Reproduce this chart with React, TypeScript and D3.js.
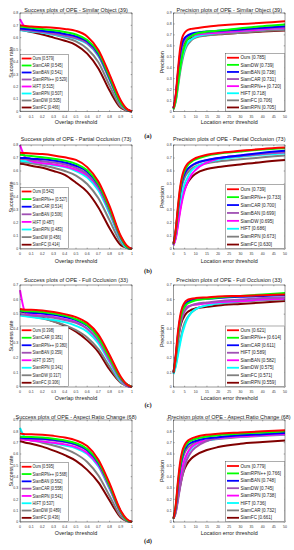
import React from "react";
import * as d3 from "d3";

// thresholds used for the sampled curve points
const successThresholds = [0, 0.05, 0.1, 0.2, 0.3, 0.4, 0.5, 0.6, 0.7, 0.8, 0.9, 0.95, 1];
const precisionThresholds = [0, 1, 2, 3, 4, 5, 6, 8, 10, 15, 20, 30, 40, 50];

// colour is given by rank in the legend
const rankColors = ["#ff0000", "#00ff00", "#0000ff", "#a050b4", "#ff00ff", "#00ffff", "#7f7f7f", "#800000"];

// (a) Similar Object
const soSuccessNames = ["Ours", "SiamCAR", "SiamBAN", "SiamRPN++", "HIFT", "SiamRPN", "SiamDW", "SiamFC"];
const soSuccessScores = ["0.579", "0.545", "0.541", "0.529", "0.515", "0.507", "0.505", "0.466"];
const soSuccessValues = [
  [0.7, 0.695, 0.69, 0.685, 0.68, 0.67, 0.655, 0.61, 0.5, 0.3, 0.09, 0.025, 0],
  [0.69, 0.685, 0.68, 0.67, 0.66, 0.645, 0.625, 0.58, 0.48, 0.28, 0.07, 0.02, 0],
  [0.675, 0.67, 0.665, 0.655, 0.645, 0.63, 0.61, 0.57, 0.47, 0.27, 0.07, 0.02, 0],
  [0.665, 0.66, 0.655, 0.645, 0.63, 0.615, 0.595, 0.555, 0.455, 0.26, 0.06, 0.015, 0],
  [0.75, 0.68, 0.665, 0.65, 0.635, 0.62, 0.6, 0.565, 0.475, 0.29, 0.08, 0.02, 0],
  [0.66, 0.655, 0.65, 0.64, 0.625, 0.61, 0.59, 0.55, 0.45, 0.26, 0.06, 0.015, 0],
  [0.675, 0.67, 0.66, 0.645, 0.625, 0.6, 0.57, 0.51, 0.4, 0.21, 0.04, 0.01, 0],
  [0.665, 0.655, 0.645, 0.625, 0.6, 0.575, 0.54, 0.47, 0.35, 0.17, 0.03, 0.01, 0],
];
const soPrecisionNames = ["Ours", "SiamDW", "SiamBAN", "SiamCAR", "SiamRPN++", "HIFT", "SiamFC", "SiamRPN"];
const soPrecisionScores = ["0.785", "0.739", "0.738", "0.731", "0.720", "0.718", "0.706", "0.705"];
const soPrecisionValues = [
  [0.03, 0.15, 0.38, 0.58, 0.68, 0.72, 0.74, 0.755, 0.76, 0.775, 0.785, 0.8, 0.81, 0.825],
  [0.02, 0.1, 0.25, 0.4, 0.52, 0.6, 0.65, 0.69, 0.71, 0.73, 0.739, 0.76, 0.78, 0.795],
  [0.03, 0.14, 0.35, 0.53, 0.63, 0.67, 0.69, 0.71, 0.72, 0.73, 0.738, 0.75, 0.765, 0.78],
  [0.03, 0.13, 0.33, 0.5, 0.6, 0.65, 0.675, 0.7, 0.71, 0.722, 0.731, 0.745, 0.76, 0.77],
  [0.03, 0.14, 0.34, 0.51, 0.61, 0.65, 0.67, 0.69, 0.7, 0.712, 0.72, 0.735, 0.75, 0.76],
  [0.03, 0.1, 0.25, 0.4, 0.5, 0.57, 0.62, 0.66, 0.685, 0.705, 0.718, 0.735, 0.75, 0.76],
  [0.02, 0.09, 0.22, 0.36, 0.47, 0.55, 0.6, 0.65, 0.675, 0.695, 0.706, 0.72, 0.735, 0.745],
  [0.03, 0.13, 0.32, 0.49, 0.59, 0.63, 0.655, 0.675, 0.685, 0.698, 0.705, 0.72, 0.73, 0.74],
];

// (b) Partial Occlusion
const poSuccessNames = ["Ours", "SiamRPN++", "SiamCAR", "SiamBAN", "HIFT", "SiamRPN", "SiamDW", "SiamFC"];
const poSuccessScores = ["0.542", "0.527", "0.514", "0.506", "0.487", "0.483", "0.456", "0.414"];
const poSuccessValues = [
  [0.74, 0.738, 0.735, 0.73, 0.72, 0.705, 0.685, 0.63, 0.52, 0.33, 0.1, 0.03, 0],
  [0.725, 0.72, 0.715, 0.705, 0.695, 0.68, 0.655, 0.605, 0.5, 0.31, 0.09, 0.02, 0],
  [0.7, 0.7, 0.695, 0.69, 0.68, 0.665, 0.64, 0.595, 0.495, 0.31, 0.09, 0.02, 0],
  [0.695, 0.69, 0.685, 0.675, 0.665, 0.65, 0.625, 0.575, 0.475, 0.29, 0.08, 0.02, 0],
  [0.8, 0.7, 0.675, 0.66, 0.65, 0.635, 0.61, 0.565, 0.47, 0.29, 0.08, 0.02, 0],
  [0.68, 0.675, 0.67, 0.66, 0.645, 0.63, 0.6, 0.55, 0.45, 0.27, 0.07, 0.01, 0],
  [0.67, 0.665, 0.66, 0.645, 0.625, 0.6, 0.565, 0.5, 0.39, 0.22, 0.05, 0.01, 0],
  [0.655, 0.65, 0.64, 0.625, 0.6, 0.57, 0.51, 0.44, 0.32, 0.16, 0.03, 0.01, 0],
];
const poPrecisionNames = ["Ours", "SiamRPN++", "SiamCAR", "SiamBAN", "SiamDW", "HIFT", "SiamRPN", "SiamFC"];
const poPrecisionScores = ["0.739", "0.733", "0.700", "0.699", "0.695", "0.686", "0.673", "0.630"];
const poPrecisionValues = [
  [0.04, 0.15, 0.33, 0.48, 0.57, 0.62, 0.65, 0.68, 0.7, 0.725, 0.739, 0.755, 0.77, 0.78],
  [0.04, 0.14, 0.31, 0.46, 0.55, 0.6, 0.635, 0.67, 0.69, 0.718, 0.733, 0.75, 0.765, 0.775],
  [0.04, 0.14, 0.3, 0.44, 0.53, 0.58, 0.61, 0.64, 0.66, 0.685, 0.7, 0.72, 0.74, 0.755],
  [0.04, 0.13, 0.29, 0.43, 0.52, 0.57, 0.6, 0.635, 0.655, 0.683, 0.699, 0.715, 0.73, 0.745],
  [0.03, 0.08, 0.18, 0.29, 0.38, 0.45, 0.5, 0.57, 0.61, 0.665, 0.695, 0.72, 0.735, 0.745],
  [0.03, 0.1, 0.22, 0.34, 0.43, 0.5, 0.54, 0.6, 0.63, 0.665, 0.686, 0.71, 0.725, 0.735],
  [0.04, 0.13, 0.28, 0.41, 0.5, 0.55, 0.58, 0.615, 0.635, 0.66, 0.673, 0.69, 0.705, 0.72],
  [0.03, 0.09, 0.2, 0.31, 0.4, 0.46, 0.5, 0.55, 0.58, 0.615, 0.63, 0.65, 0.67, 0.685],
];

// (c) Full Occlusion
const foSuccessNames = ["Ours", "SiamCAR", "SiamRPN++", "SiamBAN", "HIFT", "SiamRPN", "SiamDW", "SiamFC"];
const foSuccessScores = ["0.398", "0.381", "0.380", "0.359", "0.357", "0.341", "0.317", "0.306"];
const foSuccessValues = [
  [0.535, 0.53, 0.53, 0.525, 0.515, 0.5, 0.48, 0.44, 0.36, 0.22, 0.07, 0.02, 0],
  [0.525, 0.52, 0.52, 0.515, 0.505, 0.49, 0.465, 0.425, 0.34, 0.2, 0.06, 0.02, 0],
  [0.52, 0.515, 0.51, 0.505, 0.495, 0.48, 0.46, 0.42, 0.345, 0.21, 0.06, 0.02, 0],
  [0.5, 0.495, 0.49, 0.485, 0.475, 0.46, 0.44, 0.4, 0.32, 0.19, 0.05, 0.01, 0],
  [0.665, 0.51, 0.5, 0.49, 0.48, 0.465, 0.445, 0.4, 0.32, 0.18, 0.05, 0.01, 0],
  [0.49, 0.485, 0.48, 0.47, 0.46, 0.445, 0.42, 0.38, 0.3, 0.17, 0.04, 0.01, 0],
  [0.5, 0.495, 0.485, 0.47, 0.45, 0.425, 0.39, 0.34, 0.26, 0.14, 0.03, 0.01, 0],
  [0.52, 0.51, 0.495, 0.475, 0.45, 0.42, 0.38, 0.32, 0.24, 0.12, 0.03, 0.01, 0],
];
const foPrecisionNames = ["Ours", "SiamRPN++", "SiamCAR", "HIFT", "SiamBAN", "SiamDW", "SiamFC", "SiamRPN"];
const foPrecisionScores = ["0.621", "0.614", "0.611", "0.589", "0.582", "0.575", "0.571", "0.559"];
const foPrecisionValues = [
  [0.1, 0.22, 0.38, 0.49, 0.55, 0.58, 0.595, 0.605, 0.61, 0.615, 0.621, 0.625, 0.63, 0.635],
  [0.1, 0.2, 0.35, 0.46, 0.52, 0.55, 0.57, 0.585, 0.595, 0.605, 0.614, 0.625, 0.635, 0.645],
  [0.1, 0.21, 0.36, 0.47, 0.53, 0.56, 0.58, 0.595, 0.6, 0.605, 0.611, 0.62, 0.625, 0.63],
  [0.1, 0.19, 0.32, 0.42, 0.48, 0.52, 0.54, 0.56, 0.57, 0.58, 0.589, 0.6, 0.61, 0.615],
  [0.1, 0.2, 0.34, 0.44, 0.5, 0.53, 0.55, 0.56, 0.565, 0.575, 0.582, 0.59, 0.6, 0.605],
  [0.09, 0.14, 0.22, 0.3, 0.37, 0.42, 0.46, 0.51, 0.535, 0.56, 0.575, 0.59, 0.6, 0.605],
  [0.09, 0.15, 0.24, 0.32, 0.39, 0.44, 0.47, 0.51, 0.535, 0.56, 0.571, 0.585, 0.595, 0.6],
  [0.1, 0.19, 0.32, 0.41, 0.46, 0.49, 0.51, 0.53, 0.54, 0.55, 0.559, 0.57, 0.58, 0.59],
];

// (d) Aspect Ratio Change
const arSuccessNames = ["Ours", "SiamRPN++", "SiamBAN", "SiamCAR", "SiamRPN", "HIFT", "SiamDW", "SiamFC"];
const arSuccessScores = ["0.595", "0.568", "0.562", "0.558", "0.541", "0.537", "0.489", "0.436"];
const arSuccessValues = [
  [0.78, 0.775, 0.775, 0.77, 0.76, 0.745, 0.72, 0.67, 0.55, 0.34, 0.1, 0.03, 0],
  [0.755, 0.75, 0.75, 0.745, 0.735, 0.72, 0.695, 0.645, 0.53, 0.32, 0.09, 0.02, 0],
  [0.745, 0.74, 0.74, 0.735, 0.725, 0.71, 0.685, 0.635, 0.52, 0.32, 0.09, 0.02, 0],
  [0.74, 0.735, 0.735, 0.73, 0.72, 0.705, 0.68, 0.63, 0.515, 0.31, 0.08, 0.02, 0],
  [0.73, 0.725, 0.72, 0.71, 0.7, 0.685, 0.66, 0.61, 0.5, 0.3, 0.08, 0.02, 0],
  [0.83, 0.74, 0.725, 0.71, 0.695, 0.675, 0.65, 0.6, 0.49, 0.29, 0.08, 0.02, 0],
  [0.735, 0.73, 0.72, 0.7, 0.675, 0.645, 0.6, 0.53, 0.41, 0.23, 0.05, 0.01, 0],
  [0.715, 0.7, 0.69, 0.665, 0.63, 0.59, 0.54, 0.46, 0.35, 0.19, 0.04, 0.01, 0],
];
const arPrecisionNames = ["Ours", "SiamRPN++", "SiamBAN", "SiamDW", "SiamRPN", "HIFT", "SiamCAR", "SiamFC"];
const arPrecisionScores = ["0.779", "0.766", "0.748", "0.745", "0.738", "0.736", "0.732", "0.661"];
const arPrecisionValues = [
  [0.03, 0.15, 0.36, 0.53, 0.63, 0.68, 0.71, 0.735, 0.75, 0.77, 0.779, 0.79, 0.8, 0.81],
  [0.03, 0.14, 0.34, 0.5, 0.6, 0.66, 0.69, 0.72, 0.735, 0.755, 0.766, 0.78, 0.79, 0.8],
  [0.03, 0.13, 0.32, 0.48, 0.58, 0.64, 0.67, 0.7, 0.715, 0.738, 0.748, 0.765, 0.775, 0.785],
  [0.03, 0.08, 0.19, 0.31, 0.41, 0.49, 0.55, 0.62, 0.66, 0.715, 0.745, 0.765, 0.775, 0.785],
  [0.03, 0.11, 0.25, 0.38, 0.48, 0.55, 0.6, 0.66, 0.69, 0.72, 0.738, 0.755, 0.765, 0.775],
  [0.03, 0.1, 0.24, 0.37, 0.47, 0.54, 0.59, 0.65, 0.685, 0.718, 0.736, 0.755, 0.765, 0.775],
  [0.03, 0.12, 0.3, 0.45, 0.55, 0.61, 0.645, 0.68, 0.7, 0.72, 0.732, 0.75, 0.76, 0.77],
  [0.03, 0.09, 0.21, 0.32, 0.41, 0.47, 0.51, 0.56, 0.59, 0.635, 0.661, 0.69, 0.705, 0.72],
];

const attrTitles = ["Similar Object (39)", "Partial Occlusion (73)", "Full Occlusion (33)", "Aspect Ratio Change (68)"];
const successMax = [0.8, 0.8, 0.7, 0.9];
const precisionMax = [0.9, 0.8, 0.7, 0.9];
const subLabels = ["(a)", "(b)", "(c)", "(d)"];

// layout
const rowTop = [13, 145, 285, 420];
const rowBottom = [111.5, 249, 387, 522];
const titleBase = [12.3, 141.3, 282, 418.6];
const xLabelGap = [12, 14, 13, 13];
const subLabelY = [136, 271, 405, 541];
const succLegendStep = [7, 7.6, 7.5, 7.3];
const precLegendStep = [7.1, 7.9, 7.5, 7.4];
const FONT = "'Liberation Sans', Arial, Helvetica, sans-serif";

type PanelProps = {
  kind: "success" | "precision";
  title: string;
  names: string[];
  scores: string[];
  values: number[][];
  yMax: number;
  left: number;
  right: number;
  top: number;
  bottom: number;
  titleY: number;
  labelGap: number;
  legendStep: number;
};

function Panel(p: PanelProps) {
  const isSucc = p.kind === "success";
  const thresholds = isSucc ? successThresholds : precisionThresholds;
  const x = d3.scaleLinear().domain(isSucc ? [0, 1] : [0, 50]).range([p.left, p.right]);
  const y = d3.scaleLinear().domain([0, p.yMax]).range([p.bottom, p.top]);
  const xTicks = x.ticks(10);
  const yTicks = y.ticks(Math.round(p.yMax * 10));
  const fmtX = isSucc ? (t: number) => (t === 0 || t === 1 ? String(t) : d3.format(".1f")(t)) : d3.format("d");
  const fmtY = (t: number) => (t === 0 ? "0" : d3.format(".1f")(t));
  const line = d3
    .line<number>()
    .x((_, i) => x(thresholds[i]))
    .y((d) => y(d))
    .curve(d3.curveMonotoneX);

  const tl = 1.3;
  const cx = (p.left + p.right) / 2;
  const cy = (p.top + p.bottom) / 2;

  // legend geometry
  const lgLeft = isSucc ? p.left + 0.5 : 225.5;
  const lgRight = isSucc ? 68.5 : p.right - 0.3;
  const lgTop = p.bottom - 8 * p.legendStep - 1;
  const lineA = isSucc ? 1.2 : 1.5;
  const lineB = isSucc ? 11 : 13.5;
  const textX = isSucc ? 12 : 15;
  const lgFont = isSucc ? 4.6 : 4.8;
  const lgScale = isSucc ? 0.85 : 0.95;

  return (
    <g>
      <text x={cx} y={p.titleY} textAnchor="middle" fontSize={5.5} fontFamily={FONT} fill="#222">
        {p.title}
      </text>
      <rect x={p.left} y={p.top} width={p.right - p.left} height={p.bottom - p.top} fill="#fff" stroke="none" />
      {/* curves, lowest rank first so Ours ends on top */}
      <g>
        {p.values
          .map((v, i) => ({ v, i }))
          .reverse()
          .map(({ v, i }) => (
            <path key={i} d={line(v) || ""} fill="none" stroke={rankColors[i]} strokeWidth={2} />
          ))}
      </g>
      {/* ticks */}
      {xTicks.map((t) => (
        <g key={"x" + t}>
          <line x1={x(t)} x2={x(t)} y1={p.bottom} y2={p.bottom - tl} stroke="#333" strokeWidth={0.4} />
          <line x1={x(t)} x2={x(t)} y1={p.top} y2={p.top + tl} stroke="#333" strokeWidth={0.4} />
          <text x={x(t)} y={p.bottom + 6} textAnchor="middle" fontSize={3.5} fontFamily={FONT} fill="#333">
            {fmtX(t)}
          </text>
        </g>
      ))}
      {yTicks.map((t) => (
        <g key={"y" + t}>
          <line x1={p.left} x2={p.left + tl} y1={y(t)} y2={y(t)} stroke="#333" strokeWidth={0.4} />
          <line x1={p.right} x2={p.right - tl} y1={y(t)} y2={y(t)} stroke="#333" strokeWidth={0.4} />
          <text x={p.left - 1.8} y={y(t) + 1.2} textAnchor="end" fontSize={3.5} fontFamily={FONT} fill="#333">
            {fmtY(t)}
          </text>
        </g>
      ))}
      <rect x={p.left} y={p.top} width={p.right - p.left} height={p.bottom - p.top} fill="none" stroke="#333" strokeWidth={0.5} />
      <text x={cx} y={p.bottom + p.labelGap} textAnchor="middle" fontSize={5.4} fontFamily={FONT} fill="#222">
        {isSucc ? "Overlap threshold" : "Location error threshold"}
      </text>
      <text
        transform={`translate(${isSucc ? 10.7 : 162},${cy}) rotate(-90)`}
        dy="0.35em"
        textAnchor="middle"
        fontSize={5.4}
        fontFamily={FONT}
        fill="#222"
      >
        {isSucc ? "Success rate" : "Precision"}
      </text>
      {/* legend */}
      <rect x={lgLeft} y={lgTop} width={lgRight - lgLeft} height={p.bottom - 0.4 - lgTop} fill="#fff" stroke="#333" strokeWidth={0.4} />
      {p.names.map((n, i) => {
        const ly = lgTop + 0.5 + p.legendStep * (i + 0.5);
        return (
          <g key={n}>
            <line x1={lgLeft + lineA} x2={lgLeft + lineB} y1={ly} y2={ly} stroke={rankColors[i]} strokeWidth={1.8} />
            <text
              transform={`translate(${lgLeft + textX},${ly + lgFont * 0.35}) scale(${lgScale},1)`}
              fontSize={lgFont}
              fontFamily={FONT}
              fill="#222"
            >
              {`${n} [${p.scores[i]}]`}
            </text>
          </g>
        );
      })}
    </g>
  );
}

const successNames = [soSuccessNames, poSuccessNames, foSuccessNames, arSuccessNames];
const successScores = [soSuccessScores, poSuccessScores, foSuccessScores, arSuccessScores];
const successValues = [soSuccessValues, poSuccessValues, foSuccessValues, arSuccessValues];
const precisionNames = [soPrecisionNames, poPrecisionNames, foPrecisionNames, arPrecisionNames];
const precisionScores = [soPrecisionScores, poPrecisionScores, foPrecisionScores, arPrecisionScores];
const precisionValues = [soPrecisionValues, poPrecisionValues, foPrecisionValues, arPrecisionValues];

export default function App() {
  return (
    <svg
      width={294}
      height={550}
      viewBox="0 0 294 550"
      style={{ position: "absolute", left: 0, top: 0, background: "#fff" }}
    >
      <rect x={0} y={0} width={294} height={550} fill="#fff" />
      {attrTitles.map((a, r) => (
        <g key={a}>
          <Panel
            kind="success"
            title={`Success plots of OPE - ${a}`}
            names={successNames[r]}
            scores={successScores[r]}
            values={successValues[r]}
            yMax={successMax[r]}
            left={20}
            right={132}
            top={rowTop[r]}
            bottom={rowBottom[r]}
            titleY={titleBase[r]}
            labelGap={xLabelGap[r]}
            legendStep={succLegendStep[r]}
          />
          <Panel
            kind="precision"
            title={`Precision plots of OPE - ${a}`}
            names={precisionNames[r]}
            scores={precisionScores[r]}
            values={precisionValues[r]}
            yMax={precisionMax[r]}
            left={173.5}
            right={285}
            top={rowTop[r]}
            bottom={rowBottom[r]}
            titleY={titleBase[r]}
            labelGap={xLabelGap[r]}
            legendStep={precLegendStep[r]}
          />
          <text
            x={148}
            y={subLabelY[r] + 2.3}
            textAnchor="middle"
            fontSize={6.5}
            fontWeight="bold"
            fontFamily="'Liberation Serif', 'Times New Roman', serif"
            fill="#222"
          >
            {subLabels[r]}
          </text>
        </g>
      ))}
    </svg>
  );
}
